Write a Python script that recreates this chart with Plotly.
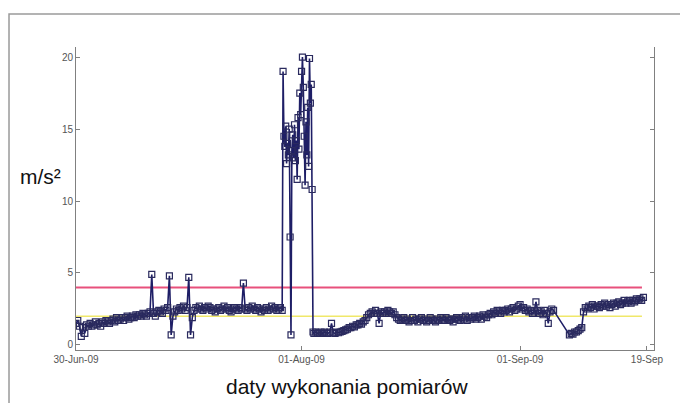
import pandas as pd
import plotly.graph_objects as go

# ---------------- data ----------------
# Segment A: 2009-06-30 00:00, every 6 h
seg_a_start = "2009-06-30 00:00"
seg_a_vals = [
    1.5, 1.7, 1.3, 0.6,   1.2, 0.8, 1.4, 1.3,   1.5, 1.3, 1.4, 1.6,   1.4, 1.5, 1.3, 1.6,
    1.5, 1.7, 1.6, 1.5,   1.7, 1.8, 1.6, 1.9,   1.7, 1.8, 1.9, 1.7,   1.9, 2.0, 1.8, 1.9,
    2.0, 1.9, 2.1, 2.0,   2.1, 2.0, 2.2, 2.1,   2.0, 2.2, 2.3, 4.9,   2.2, 2.0, 2.3, 2.4,
    2.3, 2.2, 2.5, 2.4,   2.6, 4.8, 0.7, 2.0,   2.3, 2.5, 2.4, 2.6,   2.5, 2.7, 2.4, 2.6,
    4.7, 0.7, 1.9, 2.4,   2.6, 2.5, 2.7, 2.5,   2.4, 2.6, 2.5, 2.7,   2.6, 2.4, 2.5, 2.3,
    2.5, 2.6, 2.4, 2.5,   2.7, 2.5, 2.6, 2.4,   2.3, 2.5, 2.6, 2.5,   2.4, 2.6, 2.5, 4.3,
    2.5, 2.4, 2.6, 2.5,   2.7, 2.5, 2.4, 2.6,   2.5, 2.3, 2.5, 2.4,   2.6, 2.4, 2.5, 2.7,
    2.5, 2.6, 2.4, 2.5,   2.6, 2.4,
]
# Segment B: 2009-07-29 09:00, every 3 h (the high episode)
seg_b_start = "2009-07-29 09:00"
seg_b_vals = [
    19.0, 14.5, 13.8, 15.2, 12.6, 14.0, 13.2, 15.0,
    7.5, 0.7, 13.5, 14.6, 13.0, 15.3, 12.8, 14.2,
    11.5, 15.8, 13.6, 17.5, 16.0, 19.0, 20.0, 17.9,
    14.5, 11.1, 15.5, 13.2, 16.5, 12.4, 19.9, 16.8,
    18.1, 10.8, 0.9,
]
# Segment C: 2009-08-02 18:00, every 6 h
seg_c_start = "2009-08-02 18:00"
seg_c_vals = [
    0.8,
    0.9, 0.8, 0.85, 0.9,   0.8, 0.9, 0.85, 0.8,   0.9, 1.5, 0.85, 0.8,   0.9, 0.85, 0.9, 0.95,
    1.0, 1.05, 1.1, 1.2,   1.2, 1.3, 1.25, 1.4,   1.4, 1.5, 1.45, 1.6,   1.7, 1.9, 2.1, 2.2,
    2.3, 2.2, 2.4, 2.2,    1.5, 2.3, 2.2, 2.3,    2.2, 2.4, 2.3, 2.2,    2.3, 2.1, 1.9, 1.8,
    1.7, 1.8, 1.9, 1.7,    1.8, 1.6, 1.7, 1.9,    1.7, 1.8, 1.6, 1.8,    1.9, 1.7, 1.8, 1.6,
    1.7, 1.9, 1.8, 1.7,    1.6, 1.8, 1.7, 1.9,    1.8, 1.7, 1.9, 1.8,    1.7, 1.8, 1.6, 1.8,
    1.9, 1.8, 1.7, 1.9,    1.8, 2.0, 1.7, 1.9,    1.8, 1.9, 2.0, 1.8,    1.9, 2.0, 1.8, 2.1,
    2.0, 1.9, 2.1, 2.2,    2.1, 2.3, 2.2, 2.4,    2.3, 2.2, 2.4, 2.3,    2.4, 2.5, 2.3, 2.5,
    2.6, 2.4, 2.5, 2.7,    2.8, 2.5, 2.6, 2.4,    2.5, 2.3, 2.4, 2.2,    2.3, 3.0, 2.4, 2.2,
    2.3, 2.1, 2.4, 2.2,    1.5, 2.3, 2.5, 2.4,
]
# Segment D: 2009-09-08 00:00, every 6 h
seg_d_start = "2009-09-08 00:00"
seg_d_vals = [
    0.7, 0.8, 0.75, 0.9,   0.9, 1.0, 1.1, 1.2,   2.3, 2.6, 2.5, 2.7,   2.6, 2.8, 2.5, 2.7,
    2.7, 2.6, 2.8, 2.7,    2.9, 2.7, 2.8, 2.6,   2.8, 2.9, 2.7, 2.9,   3.0, 2.8, 2.9, 3.1,
    2.9, 3.0, 3.1, 2.9,    3.1, 3.0, 3.2, 3.1,   3.2, 3.1, 3.3,
]

limit_red = 4.0
limit_yellow = 2.0
limit_span = ["2009-06-30 00:00", "2009-09-18 07:00"]

tick_dates = ["2009-06-30", "2009-08-01", "2009-09-01", "2009-09-19"]
tick_text = ["30-Jun-09", "01-Aug-09", "01-Sep-09", "19-Sep"]
y_ticks = [0, 5, 10, 15, 20]

# ---------------- build series ----------------
segments = [
    (seg_a_start, seg_a_vals, "6h"),
    (seg_b_start, seg_b_vals, "3h"),
    (seg_c_start, seg_c_vals, "6h"),
    (seg_d_start, seg_d_vals, "6h"),
]
xs, ys = [], []
for start, vals, freq in segments:
    xs.extend(pd.date_range(start, periods=len(vals), freq=freq))
    ys.extend(vals)

fig = go.Figure()
fig.add_trace(go.Scatter(x=limit_span, y=[limit_yellow] * 2, mode="lines",
                         line=dict(color="#f0e86a", width=1.5), hoverinfo="skip"))
fig.add_trace(go.Scatter(x=limit_span, y=[limit_red] * 2, mode="lines",
                         line=dict(color="#e8507c", width=2), hoverinfo="skip"))
fig.add_trace(go.Scatter(
    x=xs, y=ys, mode="lines+markers",
    line=dict(color="#1e1e66", width=1.6),
    marker=dict(symbol="square-open", size=6, color="#2a2a5e",
                line=dict(width=1.2, color="#2a2a5e")),
))

axis_font = dict(family="Liberation Sans, Arial, sans-serif", size=10, color="#555555")

# the page body adds an 8 px offset, so the figure is 8 px smaller than the window
fig.update_layout(
    width=680, height=395,
    margin=dict(l=68, r=34, t=39, b=53),
    paper_bgcolor="white", plot_bgcolor="white",
    showlegend=False,
    xaxis=dict(
        type="date", range=["2009-06-30", "2009-09-20"],
        tickmode="array", tickvals=tick_dates, ticktext=tick_text,
        ticks="inside", ticklen=4, tickcolor="#808080",
        showline=True, linecolor="#808080", linewidth=1,
        showgrid=False, zeroline=False, tickfont=axis_font,
    ),
    yaxis=dict(
        range=[-0.35, 20.7], tickmode="array", tickvals=y_ticks,
        ticks="inside", ticklen=4, tickcolor="#808080",
        showline=True, linecolor="#808080", linewidth=1, mirror="ticks",
        showgrid=False, zeroline=False, tickfont=axis_font,
    ),
    shapes=[dict(type="rect", xref="paper", yref="paper",
                 x0=-0.1159, x1=1.0484, y0=-0.2, y1=1.1089,
                 line=dict(color="#9a9a9a", width=1.5), fillcolor="rgba(0,0,0,0)")],
    annotations=[
        dict(text="m/s²", xref="paper", yref="paper", x=-0.062, y=0.574,
             showarrow=False, xanchor="center", yanchor="middle",
             font=dict(family="Liberation Sans, Arial, sans-serif", size=21, color="#111111")),
        dict(text="daty wykonania pomiarów", xref="paper", yref="paper", x=0.469, y=-0.122,
             showarrow=False, xanchor="center", yanchor="middle",
             font=dict(family="Liberation Sans, Arial, sans-serif", size=21, color="#111111")),
    ],
)

fig.write_html("out.html")
